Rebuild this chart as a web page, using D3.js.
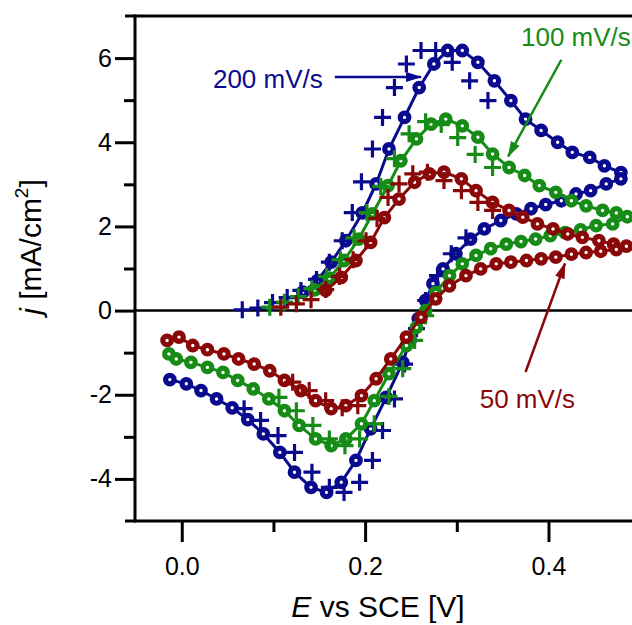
<!DOCTYPE html>
<html>
<head>
<meta charset="utf-8">
<script src="https://cdn.jsdelivr.net/npm/d3@7"></script>
<style>
  body { margin: 0; background: #fff; }
  text { font-family: "Liberation Sans", Arial, sans-serif; }
</style>
</head>
<body>
<script>

// cyclic voltammograms, [E (V vs SCE), j (mA/cm2)], circles joined by a line
var cv200 = [[0.132,0.44],[0.148,0.71],[0.163,1.15],[0.179,1.66],[0.197,2.32],[0.212,3.01],[0.226,3.84],[0.243,4.59],
  [0.259,5.30],[0.275,5.86],[0.290,6.18],[0.306,6.18],[0.323,5.90],[0.341,5.46],[0.359,4.99],[0.375,4.55],[0.392,4.28],
  [0.410,4.00],[0.426,3.76],[0.445,3.64],[0.461,3.44],[0.479,3.28],[0.479,3.13],[0.463,3.01],[0.446,2.85],[0.430,2.77],
  [0.414,2.61],[0.397,2.52],[0.381,2.42],[0.365,2.30],[0.348,2.14],[0.330,1.94],[0.315,1.70],[0.299,1.35],[0.285,0.99],
  [0.274,0.64],[0.266,0.24],[0.258,-0.19],[0.249,-0.71],[0.241,-1.23],[0.223,-2.06],[0.206,-2.81],[0.190,-3.56],
  [0.174,-4.08],[0.158,-4.32],[0.141,-4.20],[0.123,-3.84],[0.107,-3.37],[0.089,-2.93],[0.072,-2.59],[0.055,-2.31],
  [0.038,-2.10],[0.021,-1.90],[0.005,-1.74],[-0.013,-1.64]];

var cv100 = [[0.145,0.49],[0.161,0.77],[0.177,1.19],[0.193,1.70],[0.208,2.30],[0.225,2.97],[0.239,3.56],[0.256,4.08],
  [0.272,4.43],[0.288,4.55],[0.306,4.39],[0.323,4.12],[0.339,3.72],[0.357,3.40],[0.374,3.21],[0.390,2.97],[0.408,2.81],
  [0.425,2.61],[0.441,2.49],[0.459,2.38],[0.474,2.32],[0.486,2.23],[0.470,2.06],[0.452,2.02],[0.435,1.92],[0.418,1.85],
  [0.402,1.78],[0.386,1.70],[0.370,1.64],[0.354,1.58],[0.337,1.47],[0.321,1.31],[0.306,1.11],[0.292,0.83],[0.277,0.43],
  [0.266,0.00],[0.256,-0.40],[0.245,-0.83],[0.226,-1.50],[0.210,-2.14],[0.196,-2.69],[0.179,-3.05],[0.163,-3.21],
  [0.146,-3.05],[0.128,-2.73],[0.112,-2.38],[0.095,-2.10],[0.078,-1.86],[0.061,-1.66],[0.045,-1.47],[0.028,-1.35],
  [0.010,-1.23],[-0.006,-1.15],[-0.014,-1.03]];

var cv50 = [[0.157,0.48],[0.174,0.79],[0.190,1.19],[0.206,1.62],[0.221,2.21],[0.237,2.65],[0.254,3.05],[0.270,3.25],
  [0.286,3.29],[0.305,3.13],[0.321,2.85],[0.339,2.57],[0.357,2.38],[0.372,2.22],[0.388,2.06],[0.405,1.94],[0.421,1.82],
  [0.437,1.74],[0.455,1.66],[0.471,1.58],[0.485,1.53],[0.474,1.45],[0.457,1.41],[0.441,1.38],[0.425,1.34],[0.408,1.27],
  [0.392,1.23],[0.376,1.19],[0.359,1.15],[0.343,1.11],[0.326,0.99],[0.310,0.83],[0.292,0.59],[0.277,0.28],[0.261,-0.16],
  [0.245,-0.63],[0.228,-1.15],[0.212,-1.62],[0.196,-2.02],[0.179,-2.26],[0.163,-2.33],[0.146,-2.14],[0.130,-1.90],
  [0.112,-1.66],[0.096,-1.43],[0.079,-1.27],[0.062,-1.15],[0.046,-1.03],[0.028,-0.93],[0.012,-0.83],[-0.003,-0.63],
  [-0.016,-0.71]];

// second data set, plotted as "+" only
var plus200 = [[0.066,0.02],[0.083,0.06],[0.099,0.19],[0.115,0.31],[0.130,0.48],[0.147,0.74],[0.161,1.15],[0.175,1.66],
  [0.186,2.33],[0.196,3.06],[0.208,3.84],[0.219,4.59],[0.232,5.30],[0.245,5.86],[0.261,6.18],[0.277,6.18],[0.295,5.90],
  [0.314,5.46],[0.334,4.99],
  [0.310,1.73],[0.294,1.35],[0.279,0.83],[0.266,0.24],[0.256,-0.43],[0.243,-1.27],[0.232,-2.10],[0.219,-2.85],
  [0.208,-3.56],[0.194,-4.08],[0.177,-4.32],[0.161,-4.20],[0.142,-3.84],[0.123,-3.37],[0.105,-2.97],[0.086,-2.61],
  [0.068,-2.33]];

var plus100 = [[0.096,0.08],[0.112,0.20],[0.127,0.33],[0.142,0.52],[0.158,0.81],[0.173,1.21],[0.188,1.73],[0.202,2.33],
  [0.217,2.95],[0.232,3.61],[0.248,4.20],[0.266,4.49],[0.283,4.42],[0.301,4.11],[0.320,3.71],[0.339,3.40],
  [0.266,-0.12],[0.254,-0.71],[0.241,-1.38],[0.226,-2.04],[0.210,-2.69],[0.194,-3.05],[0.178,-3.21],[0.161,-3.05],
  [0.143,-2.73],[0.125,-2.38],[0.106,-2.06]];

var plus50 = [[0.108,0.08],[0.125,0.16],[0.141,0.26],[0.157,0.50],[0.172,0.81],[0.187,1.21],[0.201,1.66],[0.213,2.19],
  [0.225,2.69],[0.237,3.01],[0.252,3.25],[0.268,3.29],[0.286,3.09],[0.305,2.85],[0.323,2.57],[0.339,2.38],
  [0.192,-2.26],[0.175,-2.31],[0.157,-2.14],[0.139,-1.90],[0.121,-1.70]];

var yMajorTicks = [-4, -2, 0, 2, 4, 6];
var yMinorTicks = [-3, -1, 1, 3, 5];
var xMajorTicks = [0.0, 0.2, 0.4];
var xMinorTicks = [0.1, 0.3, 0.5];

// label text, label anchor and arrow [tail, head] in data units
var rates = [
  {name: "200 mV/s", cv: cv200, plus: plus200, color: "#0a0a8e",
   label: [0.034, 5.29], arrow: [[0.167, 5.55], [0.261, 5.55]]},
  {name: "100 mV/s", cv: cv100, plus: plus100, color: "#168c16",
   label: [0.370, 6.29], arrow: [[0.414, 5.96], [0.356, 3.66]]},
  {name: "50 mV/s", cv: cv50, plus: plus50, color: "#8a0808",
   label: [0.325, -2.31], arrow: [[0.375, -1.46], [0.418, 1.12]]}
];

(function() {
  "use strict";

  var W = 632, H = 625;
  var plotLeft = 135, plotTop = 16, plotBottom = 521;

  var x = d3.scaleLinear().domain([-0.051, 0.55]).range([plotLeft, 686]);
  var y = d3.scaleLinear().domain([-5, 7]).range([plotBottom, plotTop]);

  var svg = d3.select("body").append("svg")
    .attr("width", W).attr("height", H);

  var defs = svg.append("defs");
  defs.append("clipPath").attr("id", "plot")
    .append("rect").attr("x", plotLeft).attr("y", plotTop)
    .attr("width", 700).attr("height", plotBottom - plotTop);

  rates.forEach(function(r, i) {
    defs.append("marker").attr("id", "head" + i)
      .attr("markerUnits", "userSpaceOnUse")
      .attr("viewBox", "0 -6 16 12")
      .attr("markerWidth", 16).attr("markerHeight", 12)
      .attr("refX", 15).attr("refY", 0)
      .attr("orient", "auto")
      .append("path").attr("d", "M0,-5L16,0L0,5Z").attr("fill", r.color);
  });

  // axes: major ticks with labels, minor ticks without
  function styleAxis(g) {
    g.select(".domain").remove();
    g.selectAll(".tick line").attr("stroke", "#000").attr("stroke-width", 3);
    g.selectAll(".tick text").attr("fill", "#000").style("font-size", "25px")
      .style("font-family", "'Liberation Sans', Arial, sans-serif");
  }

  svg.append("g").attr("transform", "translate(" + plotLeft + ",0)")
    .call(d3.axisLeft(y).tickValues(yMajorTicks).tickSize(20).tickPadding(3)
      .tickFormat(function(d) { return String(d); }))
    .call(styleAxis);
  svg.append("g").attr("transform", "translate(" + plotLeft + ",0)")
    .call(d3.axisLeft(y).tickValues(yMinorTicks).tickSize(11).tickFormat(""))
    .call(styleAxis);
  svg.append("g").attr("transform", "translate(0," + plotBottom + ")")
    .call(d3.axisBottom(x).tickValues(xMajorTicks).tickSize(21).tickPadding(15).tickFormat(d3.format(".1f")))
    .call(styleAxis);
  svg.append("g").attr("transform", "translate(0," + plotBottom + ")")
    .call(d3.axisBottom(x).tickValues(xMinorTicks).tickSize(11).tickFormat(""))
    .call(styleAxis);

  // frame and zero line
  svg.append("line").attr("x1", plotLeft).attr("x2", plotLeft)
    .attr("y1", plotTop - 1.5).attr("y2", plotBottom + 1.5)
    .attr("stroke", "#000").attr("stroke-width", 3);
  svg.append("line").attr("x1", 125).attr("x2", W).attr("y1", plotTop).attr("y2", plotTop)
    .attr("stroke", "#000").attr("stroke-width", 3);
  svg.append("line").attr("x1", 125).attr("x2", W).attr("y1", plotBottom).attr("y2", plotBottom)
    .attr("stroke", "#000").attr("stroke-width", 3);
  svg.append("line").attr("x1", plotLeft).attr("x2", W).attr("y1", y(0)).attr("y2", y(0))
    .attr("stroke", "#000").attr("stroke-width", 2.5);

  // data
  var plot = svg.append("g").attr("clip-path", "url(#plot)");
  var line = d3.line().x(function(d) { return x(d[0]); }).y(function(d) { return y(d[1]); });

  rates.forEach(function(r) {
    var g = plot.append("g");
    g.append("path").datum(r.cv).attr("d", line)
      .attr("fill", "none").attr("stroke", r.color).attr("stroke-width", 3);
    g.selectAll("circle").data(r.cv).enter().append("circle")
      .attr("cx", function(d) { return x(d[0]); })
      .attr("cy", function(d) { return y(d[1]); })
      .attr("r", 4.3)
      .attr("fill", "#fff").attr("stroke", r.color).attr("stroke-width", 5.2);
    g.selectAll(".plus").data(r.plus).enter().append("path").attr("class", "plus")
      .attr("transform", function(d) { return "translate(" + x(d[0]) + "," + y(d[1]) + ")"; })
      .attr("d", "M-8.5,0H8.5M0,-8.5V8.5")
      .attr("stroke", r.color).attr("stroke-width", 3.2).attr("fill", "none");
  });

  // labels and arrows
  rates.forEach(function(r, i) {
    svg.append("text")
      .attr("x", x(r.label[0])).attr("y", y(r.label[1]))
      .attr("fill", r.color).style("font-size", "26px")
      .text(r.name);
    svg.append("line")
      .attr("x1", x(r.arrow[0][0])).attr("y1", y(r.arrow[0][1]))
      .attr("x2", x(r.arrow[1][0])).attr("y2", y(r.arrow[1][1]))
      .attr("stroke", r.color).attr("stroke-width", 2.5)
      .attr("marker-end", "url(#head" + i + ")");
  });

  // axis titles
  var yt = svg.append("text")
    .attr("transform", "translate(41,247) rotate(-90)")
    .attr("text-anchor", "middle").style("font-size", "30px").attr("fill", "#000");
  yt.append("tspan").style("font-style", "italic").text("j");
  yt.append("tspan").text(" [mA/cm");
  yt.append("tspan").attr("dy", -13).style("font-size", "19px").text("2");
  yt.append("tspan").attr("dy", 13).text("]");

  var xt = svg.append("text")
    .attr("x", 378).attr("y", 617)
    .attr("text-anchor", "middle").style("font-size", "30px").attr("fill", "#000");
  xt.append("tspan").style("font-style", "italic").text("E");
  xt.append("tspan").text(" vs SCE [V]");
})();

</script>
</body>
</html>
